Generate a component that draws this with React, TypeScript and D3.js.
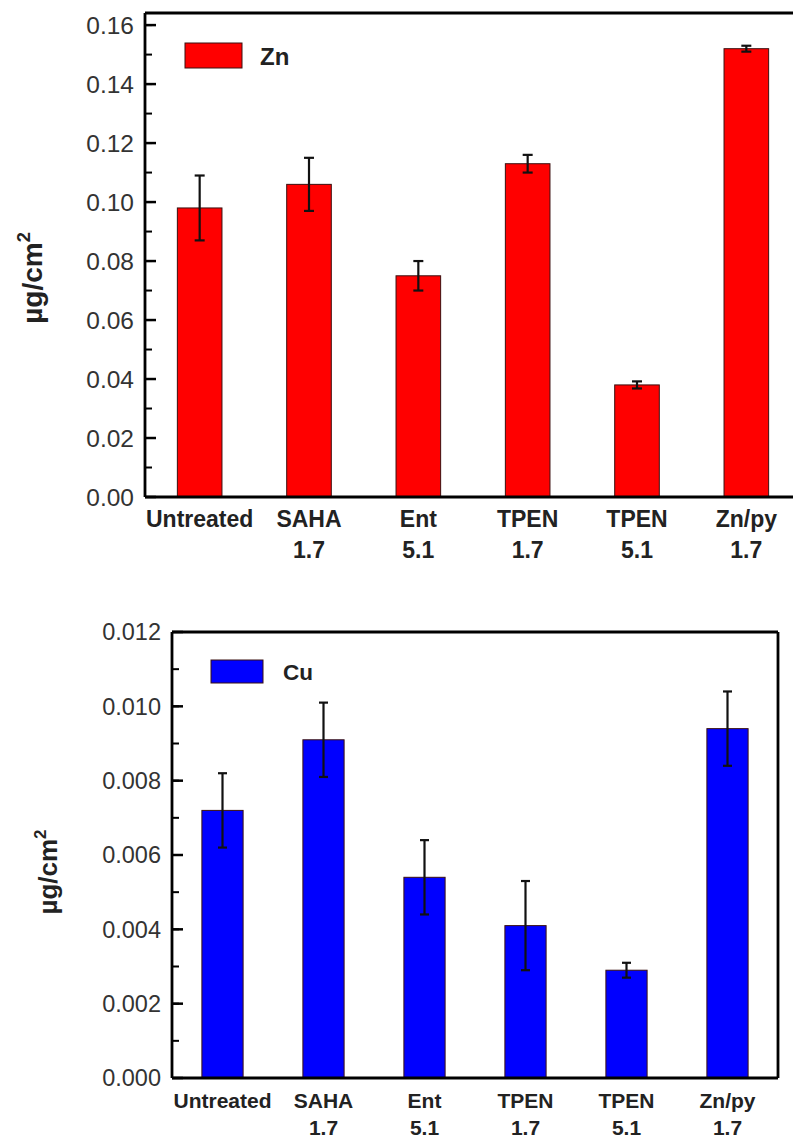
import React from "react";
import * as d3 from "d3";

const categories = ["Untreated", "SAHA\n1.7", "Ent\n5.1", "TPEN\n1.7", "TPEN\n5.1", "Zn/py\n1.7"];
const znValues = [0.098, 0.106, 0.075, 0.113, 0.038, 0.152];
const znErrors = [0.011, 0.009, 0.005, 0.003, 0.0012, 0.001];
const cuValues = [0.0072, 0.0091, 0.0054, 0.0041, 0.0029, 0.0094];
const cuErrors = [0.001, 0.001, 0.001, 0.0012, 0.0002, 0.001];
const znTicks = [0, 0.02, 0.04, 0.06, 0.08, 0.1, 0.12, 0.14, 0.16];
const cuTicks = [0, 0.002, 0.004, 0.006, 0.008, 0.01, 0.012];

type PanelProps = {
  values: number[];
  errors: number[];
  ticks: number[];
  yMax: number;
  minorStep: number;
  left: number;
  right: number;
  top: number;
  bottom: number;
  fill: string;
  legend: string;
  tickFont: number;
  tickFmt: (v: number) => string;
  labelFont: number;
  labelY1: number;
  labelGap: number;
  capW: number;
  legendRect: [number, number, number, number];
  legendText: [number, number];
  legendFont: number;
  yLabelPos: [number, number];
  yLabelFont: number;
  drawRight: boolean;
};

const FONT = "'Liberation Sans', Arial, sans-serif";

function Panel(p: PanelProps) {
  const x = d3
    .scaleBand<string>()
    .domain(categories)
    .range([p.left, p.right])
    .paddingInner(0.592)
    .paddingOuter(0.296);
  const y = d3.scaleLinear().domain([0, p.yMax]).range([p.bottom, p.top]);
  const minor = d3.range(0, p.yMax + 1e-9, p.minorStep);
  const bw = x.bandwidth();
  return (
    <g>
      {categories.map((c, i) => (
        <rect
          key={"b" + i}
          x={x(c)!}
          y={y(p.values[i])}
          width={bw}
          height={p.bottom - y(p.values[i])}
          fill={p.fill}
          stroke="#3a1010"
          strokeWidth={1}
        />
      ))}
      {categories.map((c, i) => {
        const cx = x(c)! + bw / 2;
        const yt = y(p.values[i] + p.errors[i]);
        const yb = y(p.values[i] - p.errors[i]);
        return (
          <g key={"e" + i} stroke="#111" strokeWidth={2.2}>
            <line x1={cx} x2={cx} y1={yt} y2={yb} />
            <line x1={cx - p.capW / 2} x2={cx + p.capW / 2} y1={yt} y2={yt} />
            <line x1={cx - p.capW / 2} x2={cx + p.capW / 2} y1={yb} y2={yb} />
          </g>
        );
      })}
      <line x1={p.left} x2={p.right} y1={p.top} y2={p.top} stroke="#000" strokeWidth={2.8} />
      <line x1={p.left} x2={p.right} y1={p.bottom} y2={p.bottom} stroke="#000" strokeWidth={2.8} />
      <line x1={p.left} x2={p.left} y1={p.top} y2={p.bottom} stroke="#000" strokeWidth={2.8} />
      {p.drawRight && (
        <line x1={p.right} x2={p.right} y1={p.top} y2={p.bottom} stroke="#000" strokeWidth={2.8} />
      )}
      {minor.map((v, i) => (
        <line key={"m" + i} x1={p.left} x2={p.left + 7} y1={y(v)} y2={y(v)} stroke="#000" strokeWidth={2} />
      ))}
      {p.ticks.map((v, i) => (
        <g key={"t" + i}>
          <line x1={p.left} x2={p.left + 11} y1={y(v)} y2={y(v)} stroke="#000" strokeWidth={2.5} />
          <text
            x={p.left - 11}
            y={y(v)}
            dy="0.36em"
            textAnchor="end"
            fontSize={p.tickFont}
            fill="#333"
            fontFamily={FONT}
          >
            {p.tickFmt(v)}
          </text>
        </g>
      ))}
      {categories.map((c, i) => {
        const cx = x(c)! + bw / 2;
        return c.split("\n").map((line, j) => (
          <text
            key={"x" + i + "_" + j}
            x={cx}
            y={p.labelY1 + j * p.labelGap}
            textAnchor="middle"
            fontSize={p.labelFont}
            fontWeight="bold"
            fill="#222"
            fontFamily={FONT}
          >
            {line}
          </text>
        ));
      })}
      <rect
        x={p.legendRect[0]}
        y={p.legendRect[1]}
        width={p.legendRect[2]}
        height={p.legendRect[3]}
        fill={p.fill}
        stroke="#3a1010"
        strokeWidth={1}
      />
      <text
        x={p.legendText[0]}
        y={p.legendText[1]}
        fontSize={p.legendFont}
        fontWeight="bold"
        fill="#222"
        fontFamily={FONT}
      >
        {p.legend}
      </text>
      <text
        transform={`translate(${p.yLabelPos[0]},${p.yLabelPos[1]}) rotate(-90)`}
        textAnchor="middle"
        fontSize={p.yLabelFont}
        fontWeight="bold"
        fill="#222"
        fontFamily={FONT}
      >
        µg/cm
        <tspan fontSize={p.yLabelFont * 0.65} dy={-p.yLabelFont * 0.42}>
          2
        </tspan>
      </text>
    </g>
  );
}

export default function App() {
  return (
    <svg
      width={793}
      height={1140}
      style={{ position: "absolute", left: 0, top: 0, background: "#fff", display: "block" }}
    >
      <rect x={0} y={0} width={793} height={1140} fill="#fff" />
      <Panel
        values={znValues}
        errors={znErrors}
        ticks={znTicks}
        yMax={0.1641}
        minorStep={0.01}
        left={145}
        right={801}
        top={13}
        bottom={497}
        fill="#ff0000"
        legend="Zn"
        tickFont={24.5}
        tickFmt={(v) => v.toFixed(2)}
        labelFont={23}
        labelY1={527}
        labelGap={31}
        capW={10}
        legendRect={[185, 43, 57, 25]}
        legendText={[260, 65]}
        legendFont={24}
        yLabelPos={[42, 278]}
        yLabelFont={28}
        drawRight={true}
      />
      <Panel
        values={cuValues}
        errors={cuErrors}
        ticks={cuTicks}
        yMax={0.012}
        minorStep={0.001}
        left={172}
        right={778}
        top={632}
        bottom={1078}
        fill="#0000ff"
        legend="Cu"
        tickFont={23.5}
        tickFmt={(v) => v.toFixed(3)}
        labelFont={21}
        labelY1={1108}
        labelGap={27}
        capW={9}
        legendRect={[211, 660, 52, 23]}
        legendText={[283, 680]}
        legendFont={22.5}
        yLabelPos={[57, 872]}
        yLabelFont={26}
        drawRight={true}
      />
    </svg>
  );
}
